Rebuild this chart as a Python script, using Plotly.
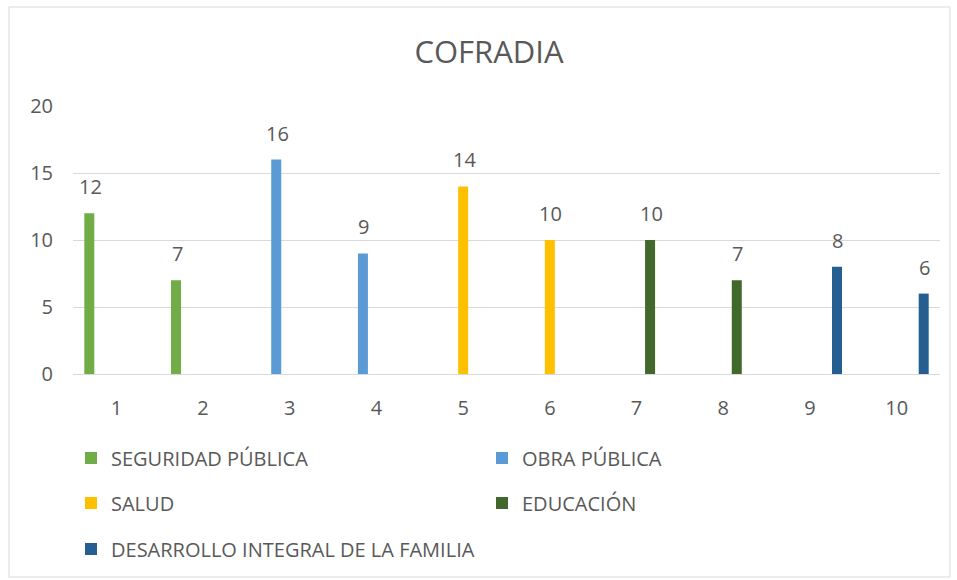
import plotly.graph_objects as go

categories = ["1", "2", "3", "4", "5", "6", "7", "8", "9", "10"]
series_names = ["SEGURIDAD PÚBLICA", "OBRA PÚBLICA", "SALUD", "EDUCACIÓN",
                "DESARROLLO INTEGRAL DE LA FAMILIA"]
series_cats = [["1", "2"], ["3", "4"], ["5", "6"], ["7", "8"], ["9", "10"]]
series_vals = [[12, 7], [16, 9], [14, 10], [10, 7], [8, 6]]
colors = ["#70AD47", "#5B9BD5", "#FFC000", "#43682B", "#255E91"]
legend_ids = ["legend", "legend", "legend2", "legend2", "legend3"]
y_ticks = [0, 5, 10, 15, 20]

TXT = "#595959"
FONT = "Open Sans"

fig = go.Figure()
for i, name in enumerate(series_names):
    fig.add_trace(go.Bar(
        x=series_cats[i], y=series_vals[i], name=name,
        marker=dict(color=colors[i], line=dict(width=0)),
        legend=legend_ids[i], offsetgroup=str(i),
    ))

# data labels
slot = 13.5
for i in range(len(series_names)):
    for c, v in zip(series_cats[i], series_vals[i]):
        fig.add_annotation(x=categories.index(c), y=v, text=str(v), showarrow=False,
                           yanchor="bottom", yshift=11, xshift=(i - 2) * slot + 1,
                           font=dict(family=FONT, size=20, color=TXT))

L, R, T, B = 73, 940, 106, 374
W, H = 957, 580
pw, ph = R - L, B - T

def px(x):
    return (x - L) / pw

def py(y):
    return (B - y) / ph

fig.add_shape(type="rect", xref="paper", yref="paper",
              x0=px(9), x1=px(950), y0=py(577), y1=py(7),
              line=dict(color="#D9D9D9", width=1), fillcolor="rgba(0,0,0,0)",
              layer="below")

leg_common = dict(orientation="h", xanchor="left", yanchor="middle",
                  font=dict(family=FONT, size=20, color=TXT),
                  entrywidth=366, entrywidthmode="pixels",
                  bgcolor="rgba(0,0,0,0)", itemwidth=30)

fig.update_layout(
    width=W, height=H,
    margin=dict(l=L, r=W - R, t=T, b=H - B),
    paper_bgcolor="white", plot_bgcolor="white",
    barmode="group", bargap=0.22, bargroupgap=0.26,
    title=dict(text="COFRADIA", x=px(489), xanchor="center", xref="paper",
               y=1 - 52 / H, yanchor="middle",
               font=dict(family=FONT, size=31, color=TXT)),
    font=dict(family=FONT, color=TXT),
    showlegend=True,
    legend=dict(x=px(71), y=py(458), **leg_common),
    legend2=dict(x=px(71), y=py(503), **leg_common),
    legend3=dict(x=px(71), y=py(549), **leg_common),
    xaxis=dict(type="category", categoryorder="array", categoryarray=categories,
               range=[-0.5, len(categories) - 0.5],
               tickfont=dict(family=FONT, size=20, color=TXT),
               showline=True, linecolor="#D9D9D9", linewidth=1,
               ticks="", ticklabelstandoff=16, showgrid=False, zeroline=False),
    yaxis=dict(range=[0, 20], tickvals=y_ticks,
               tickfont=dict(family=FONT, size=20, color=TXT),
               showgrid=True, gridcolor="#D9D9D9", gridwidth=1,
               zeroline=False, showline=False, ticks="", ticklabelstandoff=19),
)

fig.write_html("out.html", config={"displayModeBar": False},
               post_script="document.body.style.margin='0';")
